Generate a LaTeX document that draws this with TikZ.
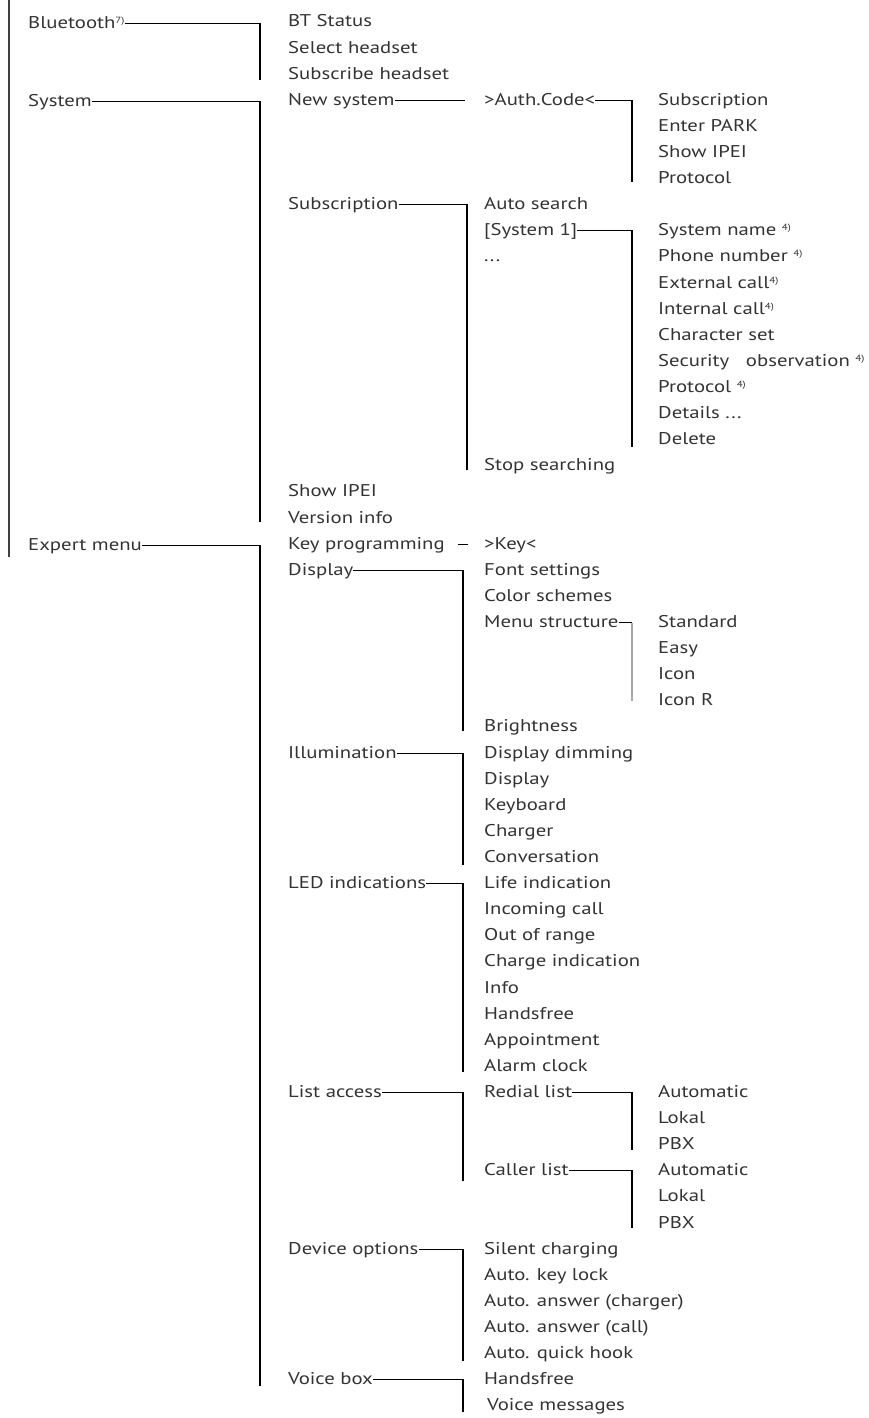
\documentclass[tikz,border=0pt]{standalone}
\usepackage{fontspec}
\setmainfont{PT Sans}[FakeStretch=1.22]
\usetikzlibrary{positioning}
\definecolor{txt}{HTML}{333333}
\tikzset{
  item/.style ={anchor=west, inner sep=0pt, text height=10pt, text depth=0pt,
                font=\fontsize{17}{17}\selectfont, text=txt},
  br/.style   ={draw=black, line width=1.1pt},
  rail/.style ={draw=black!75, line width=2.4pt},
  soft/.style ={draw=black!35, line width=2.2pt}
}
\newcommand{\fn}[1]{\raisebox{5pt}{\fontsize{9}{9}\selectfont #1)}}

\begin{document}
\begin{tikzpicture}[x=1pt, y=-26.11pt]
  \useasboundingbox (0,-0.8426) rectangle (869,53.466);

  % main menu
  \node[item](bt)  at (28,0.05)  {Bluetooth\fn{7}};
  \node[item](sys) at (28,3.05)  {System};
  \node[item](exp) at (28,20.05) {Expert menu};
  \coordinate (railT) at (9,-0.85);
  \coordinate (railB) at (9,20.5);
  \draw[rail](railT)--(railB);

  % second level
  \node[item](bts)  at (288,0)  {BT Status};
  \node[item](selh) at (288,1)  {Select headset};
  \node[item](subh) at (288,2)  {Subscribe headset};
  \node[item](ns)   at (288,3)  {New system};
  \node[item](subs) at (288,7)  {Subscription};
  \node[item](ipei) at (288,18) {Show IPEI};
  \node[item](ver)  at (288,19) {Version info};
  \node[item](kp)   at (288,20) {Key programming};
  \node[item](disp) at (288,21) {Display};
  \node[item](illu) at (288,28) {Illumination};
  \node[item](led)  at (288,33) {LED indications};
  \node[item](list) at (288,41) {List access};
  \node[item](dev)  at (288,47) {Device options};
  \node[item](vbox) at (288,52) {Voice box};

  % third level
  \node[item](auth)   at (484,3)  {>Auth.Code<};
  \node[item](auto)   at (484,7)  {Auto search};
  \node[item](sys1)   at (484,8)  {[System 1]};
  \node[item](dots)   at (484,9)  {...};
  \node[item](stop)   at (484,17) {Stop searching};
  \node[item](key)    at (484,20) {>Key<};
  \foreach \t [count=\i from 21] in {Font settings, Color schemes}
    \node[item](ds\i) at (484,\i) {\t};
  \node[item](menu)   at (484,23) {Menu structure};
  \node[item](bright) at (484,27) {Brightness};
  \foreach \t [count=\i from 28] in {Display dimming, Display, Keyboard, Charger, Conversation}
    \node[item](il\i) at (484,\i) {\t};
  \foreach \t [count=\i from 33] in {Life indication, Incoming call, Out of range,
      Charge indication, Info, Handsfree, Appointment, Alarm clock}
    \node[item](le\i) at (484,\i) {\t};
  \node[item](redial) at (484,41) {Redial list};
  \node[item](caller) at (484,44) {Caller list};
  \foreach \t [count=\i from 47] in {Silent charging, Auto. key lock, Auto. answer (charger),
      Auto. answer (call), Auto. quick hook, Handsfree}
    \node[item](dv\i) at (484,\i) {\t};
  \node[item](vmsg)   at (487,53) {Voice messages};

  % fourth level
  \foreach \t [count=\i from 3] in {Subscription, Enter PARK, Show IPEI, Protocol}
    \node[item](au\i) at (658,\i) {\t};
  \node[item](sn)  at (658,8)  {System name \fn{4}};
  \node[item](pn)  at (658,9)  {Phone number \fn{4}};
  \node[item](ec)  at (658,10) {External call\fn{4}};
  \node[item](ic)  at (658,11) {Internal call\fn{4}};
  \node[item](cs)  at (658,12) {Character set};
  \node[item](so)  at (658,13) {Security\ \ \ observation \fn{4}};
  \node[item](pr)  at (658,14) {Protocol \fn{4}};
  \node[item](det) at (658,15) {Details ...};
  \node[item](del) at (658,16) {Delete};
  \foreach \t [count=\i from 23] in {Standard, Easy, Icon, Icon R}
    \node[item](ms\i) at (658,\i) {\t};
  \foreach \t [count=\i from 41] in {Automatic, Lokal, PBX, Automatic, Lokal, PBX}
    \node[item](ls\i) at (658,\i) {\t};

  % bracket ends
  \coordinate (btE)     at (260,2.22);
  \coordinate (sysE)    at (260,19.15);
  \coordinate (expE)    at (260,52.24);
  \coordinate (subsE)   at (467,17.16);
  \coordinate (dispE)   at (463,27.15);
  \coordinate (illuE)   at (463,32.29);
  \coordinate (ledE)    at (463,40.2);
  \coordinate (listE)   at (463,44.4);
  \coordinate (devE)    at (463,51.3);
  \coordinate (vboxE)   at (463,53.24);
  \coordinate (authE)   at (632,6.13);
  \coordinate (sys1E)   at (632,16.28);
  \coordinate (menuT)   at (632,23);
  \coordinate (menuB)   at (632,26);
  \coordinate (redialE) at (632,43.2);
  \coordinate (callerE) at (632,46.2);

  \draw[br](bt.east) -| (btE);
  \draw[br](sys.east) -| (sysE);
  \draw[br](exp.east) -| (expE);
  \draw[br](ns.east) -- ([xshift=-19pt]auth.west);
  \draw[br](subs.east) -| (subsE);
  \draw[br]([xshift=-26pt]key.west) -- ([xshift=-16pt]key.west);
  \draw[br](disp.east) -| (dispE);
  \draw[br](illu.east) -| (illuE);
  \draw[br](led.east) -| (ledE);
  \draw[br](list.east) -| (listE);
  \draw[br](dev.east) -| (devE);
  \draw[br](vbox.east) -| (vboxE);
  \draw[br](auth.east) -| (authE);
  \draw[br](sys1.east) -| (sys1E);
  \draw[br](menu.east) -- (menuT);
  \draw[soft](menuT) -- (menuB);
  \draw[br](redial.east) -| (redialE);
  \draw[br](caller.east) -| (callerE);
\end{tikzpicture}
\end{document}
